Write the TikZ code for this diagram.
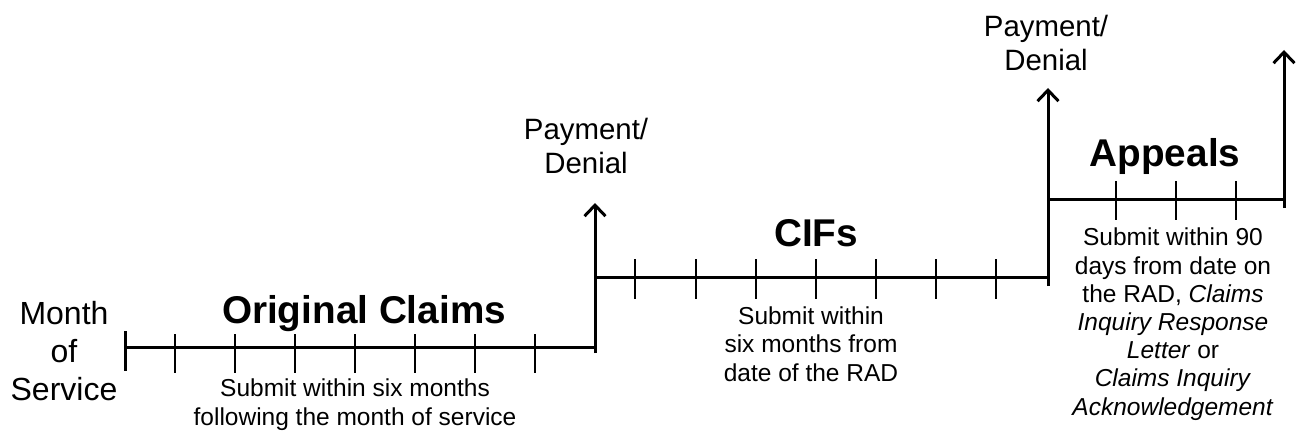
\documentclass[tikz,border=0pt]{standalone}
\usepackage{fontspec}
\setmainfont{Liberation Sans}
\usetikzlibrary{arrows.meta}
\begin{document}
\begin{tikzpicture}[x=1pt,y=-1pt,
  mainline/.style={line width=3pt},
  tickline/.style={line width=1.5pt},
  uparrow/.style={line width=3pt,-{Straight Barb[length=11pt,width=21pt]}},
  titletext/.style={font=\fontsize{38.7}{40}\selectfont\bfseries, inner sep=0pt, anchor=base},
  labeltext/.style={font=\fontsize{29.4}{34}\selectfont, align=center, inner sep=0pt, anchor=base},
  monthtext/.style={font=\fontsize{32}{38}\selectfont, align=center, inner sep=0pt, anchor=base},
  notetext/.style={font=\fontsize{24.5}{28.2}\selectfont, align=center, inner sep=0pt, anchor=base}]
\useasboundingbox (0,0) rectangle (1296,433);

% key points
\coordinate (bart) at (125,331);
\coordinate (barb) at (125,371);
\coordinate (o0) at (125,347);
\coordinate (o1) at (595,347);
\coordinate (v1b) at (595,353);
\coordinate (v1t) at (595,203);
\coordinate (c0) at (595,277);
\coordinate (c1) at (1048,277);
\coordinate (v2b) at (1048,286);
\coordinate (v2t) at (1048,88);
\coordinate (a0) at (1048,199);
\coordinate (a1) at (1284,199);
\coordinate (v3b) at (1284,208);
\coordinate (v3t) at (1284,50);

% lines
\draw[mainline] (bart) -- (barb);
\draw[mainline] (o0) -- (o1);
\draw[uparrow] (v1b) -- (v1t);
\draw[mainline] (c0) -- (c1);
\draw[uparrow] (v2b) -- (v2t);
\draw[mainline] (a0) -- (a1);
\draw[uparrow] (v3b) -- (v3t);

% ticks
\foreach \x in {175,235,295,355,415,475,535}
  \draw[tickline] (\x,334) -- (\x,373);
\foreach \x in {635,696,756,816,876,936,996}
  \draw[tickline] (\x,259) -- (\x,299);
\foreach \x in {1116,1176,1236}
  \draw[tickline] (\x,181) -- (\x,220);

% texts (multi-line nodes: base anchor is on the last line)
\node[monthtext] (month) at (64,400) {Month\\of\\Service};
\node[titletext] (orig) at (364,323) {Original Claims};
\node[notetext] (orignote) at (355,425) {Submit within six months\\following the month of service};
\node[labeltext] (pd1) at (586,173) {Payment/\\Denial};
\node[titletext] (cifs) at (816,246) {CIFs};
\node[notetext] (cifnote) at (811,381) {Submit within\\six months from\\date of the RAD};
\node[labeltext] (pd2) at (1046,71) {Payment/\\Denial};
\node[titletext] (appeals) at (1165,167) {Appeals};
\node[notetext] (appnote) at (1173,415) {Submit within 90\\days from date on\\the RAD, \textit{Claims}\\\textit{Inquiry Response}\\\textit{Letter} or\\\textit{Claims Inquiry}\\\textit{Acknowledgement}};
\end{tikzpicture}
\end{document}
